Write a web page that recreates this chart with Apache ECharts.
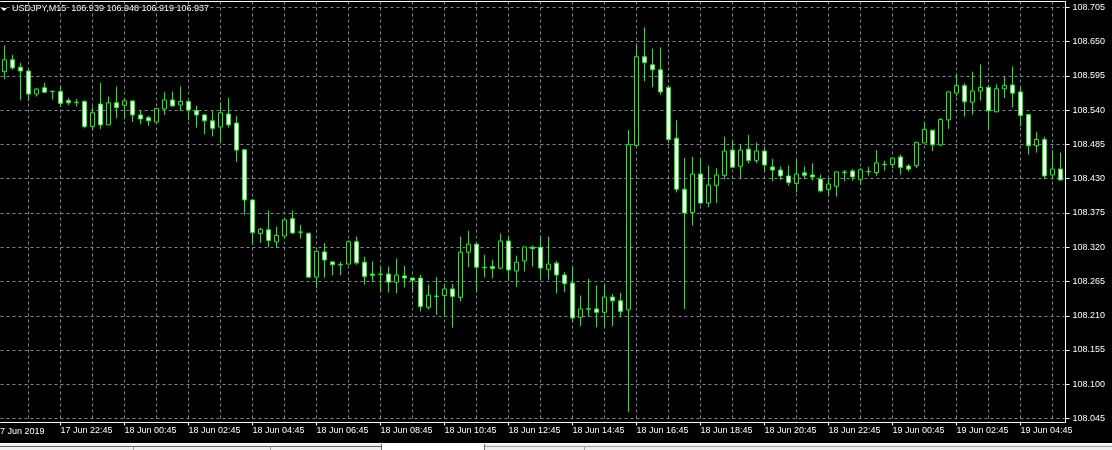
<!DOCTYPE html>
<html><head><meta charset="utf-8">
<script src="https://cdn.jsdelivr.net/npm/echarts@6/dist/echarts.min.js"></script>
<style>html,body{margin:0;padding:0;background:#000;}#c{width:1112px;height:450px;}</style>
</head><body><div id="c"></div>
<script>
// ---- data (USDJPY M15) ----
const START_UTC = Date.UTC(2019, 5, 17, 21, 0); // first bar 17 Jun 21:00
const BAR_MINUTES = 15;
const OPEN = [108.602,108.621,108.609,108.603,108.566,108.576,108.5705,108.570,108.5555,108.553,
108.554,108.514,108.550,108.5165,108.552,108.548,108.555,108.5325,108.528,108.521,
108.542,108.5565,108.5485,108.554,108.5395,108.5325,108.523,108.513,108.534,108.5195,
108.4765,108.396,108.342,108.348,108.3285,108.338,108.366,108.3446,108.342,108.272,
108.3125,108.2965,108.2922,108.293,108.329,108.296,108.277,108.277,108.277,108.264,
108.274,108.2705,108.2705,108.2235,108.2416,108.2425,108.253,108.2395,108.312,108.325,
108.2877,108.289,108.2865,108.330,108.282,108.298,108.320,108.320,108.2845,108.2945,
108.2755,108.2625,108.2075,108.2211,108.221,108.2155,108.240,108.234,108.2195,108.4835,
108.626,108.613,108.605,108.5765,108.495,108.413,108.376,108.4375,108.391,108.4195,
108.4355,108.476,108.450,108.4775,108.4595,108.4745,108.449,108.444,108.4345,108.4225,
108.4395,108.436,108.4295,108.413,108.418,108.4398,108.4425,108.429,108.4417,108.440,
108.4534,108.453,108.465,108.4505,108.451,108.4875,108.508,108.4845,108.5245,108.5675,
108.5795,108.553,108.571,108.5765,108.5375,108.5745,108.5805,108.5695,108.533,108.483,
108.493,108.436,108.4455];
const HIGH = [108.644,108.629,108.616,108.605,108.576,108.584,108.571,108.5795,108.560,108.558,
108.556,108.545,108.584,108.562,108.578,108.559,108.5555,108.540,108.531,108.5435,
108.569,108.570,108.578,108.556,108.5475,108.533,108.539,108.5525,108.560,108.531,
108.477,108.397,108.351,108.379,108.353,108.366,108.379,108.356,108.344,108.314,
108.3265,108.297,108.2965,108.331,108.337,108.305,108.297,108.290,108.289,108.302,
108.290,108.271,108.2755,108.260,108.272,108.261,108.261,108.337,108.3465,108.3255,
108.308,108.300,108.342,108.338,108.3065,108.321,108.3225,108.3385,108.337,108.298,
108.280,108.289,108.2425,108.269,108.2585,108.261,108.245,108.2465,108.508,108.645,
108.673,108.639,108.641,108.580,108.524,108.463,108.465,108.463,108.451,108.447,
108.4975,108.492,108.4855,108.5005,108.488,108.479,108.462,108.4495,108.451,108.4615,
108.4495,108.455,108.4365,108.430,108.4415,108.444,108.446,108.447,108.449,108.476,
108.4587,108.464,108.469,108.4535,108.489,108.521,108.5085,108.5275,108.570,108.5985,
108.583,108.602,108.6135,108.5805,108.5815,108.594,108.610,108.578,108.5335,108.505,
108.497,108.4755,108.472];
const LOW = [108.590,108.605,108.556,108.555,108.562,108.569,108.557,108.545,108.548,108.546,
108.511,108.508,108.510,108.516,108.527,108.526,108.521,108.5175,108.515,108.520,
108.5325,108.546,108.539,108.524,108.512,108.5015,108.498,108.487,108.512,108.457,
108.372,108.324,108.327,108.320,108.319,108.334,108.341,108.334,108.271,108.254,
108.271,108.275,108.275,108.2925,108.292,108.260,108.264,108.2485,108.2475,108.246,
108.2555,108.2475,108.217,108.220,108.2115,108.210,108.191,108.233,108.288,108.2475,
108.2715,108.270,108.285,108.266,108.2565,108.281,108.289,108.268,108.268,108.246,
108.248,108.1995,108.193,108.209,108.1915,108.1905,108.193,108.2075,108.0555,108.483,
108.5865,108.577,108.565,108.488,108.408,108.2205,108.355,108.3885,108.3845,108.391,
108.429,108.448,108.430,108.4545,108.455,108.440,108.426,108.428,108.419,108.408,
108.4295,108.427,108.408,108.4015,108.4015,108.426,108.427,108.4205,108.435,108.435,
108.443,108.447,108.4365,108.4415,108.447,108.487,108.4745,108.482,108.510,108.562,
108.530,108.533,108.5555,108.509,108.537,108.5595,108.5445,108.5145,108.469,108.472,
108.4295,108.429,108.428];
const CLOSE = [108.621,108.608,108.603,108.566,108.574,108.569,108.5700,108.551,108.552,108.5525,
108.514,108.536,108.5165,108.552,108.544,108.555,108.5325,108.526,108.523,108.543,
108.5565,108.547,108.554,108.5405,108.5325,108.523,108.511,108.536,108.5165,108.476,
108.396,108.3435,108.349,108.331,108.339,108.364,108.343,108.344,108.272,108.3135,
108.2995,108.292,108.2917,108.329,108.295,108.273,108.275,108.2765,108.264,108.2755,
108.2705,108.267,108.225,108.243,108.2411,108.253,108.241,108.312,108.325,108.288,
108.2872,108.286,108.330,108.2835,108.296,108.3205,108.318,108.2865,108.293,108.2755,
108.2615,108.2065,108.221,108.2206,108.2155,108.240,108.234,108.217,108.4845,108.626,
108.6165,108.605,108.5695,108.493,108.413,108.375,108.4375,108.391,108.420,108.436,
108.4745,108.4485,108.476,108.4595,108.4745,108.452,108.444,108.4345,108.424,108.4375,
108.4355,108.433,108.4105,108.4215,108.441,108.4409,108.433,108.4445,108.4412,108.4555,
108.4529,108.463,108.448,108.4455,108.4885,108.509,108.4845,108.525,108.5695,108.5795,
108.5535,108.571,108.5765,108.539,108.5745,108.5795,108.5675,108.5315,108.483,108.493,
108.4345,108.4455,108.428];
// price axis ticks
const PRICE_MIN = 108.045, PRICE_MAX = 108.705, PRICE_STEP = 0.055;
const TITLE_TEXT = 'USDJPY,M15  106.939 106.948 106.919 106.937';
const FIRST_DATE_LABEL = '17 Jun 2019';

// ---- categories (bar times) ----
const MONTHS = ['Jan','Feb','Mar','Apr','May','Jun','Jul','Aug','Sep','Oct','Nov','Dec'];
const categories = OPEN.map(function (_, i) {
  const d = new Date(START_UTC + i * BAR_MINUTES * 60000);
  const p = function (n) { return (n < 10 ? '0' : '') + n; };
  return d.getUTCDate() + ' ' + MONTHS[d.getUTCMonth()] + ' ' + p(d.getUTCHours()) + ':' + p(d.getUTCMinutes());
});
const candles = OPEN.map(function (o, i) { return [o, CLOSE[i], LOW[i], HIGH[i]]; });

const FONT = 'Liberation Sans';
const GRID_COLOR = '#778899';
const isLabelBar = function (i) { return i % 8 === 7; };
const isGridBar = function (i) { return i % 4 === 3; };

const chart = echarts.init(document.getElementById('c'), null, {renderer: 'canvas'});
chart.setOption({
  animation: false,
  backgroundColor: '#000000',
  textStyle: {fontFamily: FONT},
  grid: [
    {left: 0.5, width: 1064, top: 1.5, bottom: 27.5, containLabel: false},
    {left: 0.5, width: 1064, top: 7.5, bottom: 31.5, containLabel: false}
  ],
  xAxis: [
    {
      gridIndex: 0, type: 'category', data: categories, boundaryGap: true, position: 'bottom',
      axisLine: {show: true, lineStyle: {color: '#ffffff', width: 1}},
      axisTick: {show: true, interval: isLabelBar, alignWithLabel: true, length: 3, lineStyle: {color: '#ffffff'}},
      axisLabel: {show: true, interval: isLabelBar, align: 'left', color: '#ffffff', fontSize: 9, fontFamily: FONT, margin: 4, hideOverlap: false},
      splitLine: {show: true, interval: isGridBar, alignWithLabel: true, lineStyle: {color: GRID_COLOR, type: [3, 3], width: 1}}
    },
    {
      gridIndex: 0, type: 'category', data: categories, position: 'top',
      axisLine: {show: true, lineStyle: {color: '#ffffff', width: 1}},
      axisTick: {show: false}, axisLabel: {show: false}, splitLine: {show: false}
    },
    {
      gridIndex: 1, type: 'category', data: categories, boundaryGap: true, show: false
    }
  ],
  yAxis: [
    {
      gridIndex: 0, type: 'value', min: 0, max: 1, position: 'right', offset: 1,
      axisLine: {show: true, lineStyle: {color: '#ffffff', width: 1}},
      axisTick: {show: false}, axisLabel: {show: false}, splitLine: {show: false}
    },
    {
      gridIndex: 1, type: 'value', min: PRICE_MIN, max: PRICE_MAX, interval: PRICE_STEP, position: 'right', offset: 1,
      axisLine: {show: false},
      axisTick: {show: true, inside: false, length: 4, lineStyle: {color: '#ffffff'}},
      axisLabel: {show: true, color: '#ffffff', fontSize: 9, fontFamily: FONT, margin: 7,
        formatter: function (v) { return v.toFixed(3); }},
      splitLine: {show: true, lineStyle: {color: GRID_COLOR, type: [3, 3], width: 1}}
    }
  ],
  series: [{
    type: 'candlestick',
    xAxisIndex: 2, yAxisIndex: 1,
    data: candles,
    barWidth: 4,
    itemStyle: {
      color: '#000000', color0: '#ffffff',
      borderColor: '#00ff00', borderColor0: '#00ff00', borderColorDoji: '#00ff00',
      borderWidth: 1
    }
  }],
  graphic: [
    {type: 'polygon', shape: {points: [[1, 8], [7, 8], [4, 11]]}, style: {fill: '#ffffff'}, silent: true},
    {type: 'text', left: 12, top: 4, style: {text: TITLE_TEXT, fill: '#ffffff', font: '9px "' + FONT + '"'}, silent: true},
    {type: 'text', x: -5, y: 427, style: {text: FIRST_DATE_LABEL, fill: '#ffffff', font: '9px "' + FONT + '"'}, silent: true},
    {type: 'rect', shape: {x: 0, y: 443, width: 1112, height: 7}, style: {fill: '#f0f0f0'}, silent: true},
    {type: 'rect', shape: {x: 0, y: 443, width: 1112, height: 1}, style: {fill: '#ffffff'}, silent: true},
    {type: 'rect', shape: {x: 0, y: 446, width: 381, height: 1}, style: {fill: '#696969'}, silent: true},
    {type: 'rect', shape: {x: 382, y: 444, width: 102, height: 6}, style: {fill: '#ffffff'}, silent: true},
    {type: 'rect', shape: {x: 484, y: 446, width: 628, height: 1}, style: {fill: '#a0a0a0'}, silent: true},
    {type: 'rect', shape: {x: 381, y: 444, width: 1, height: 6}, style: {fill: '#696969'}, silent: true},
    {type: 'rect', shape: {x: 484, y: 444, width: 1, height: 6}, style: {fill: '#696969'}, silent: true},
    {type: 'rect', shape: {x: 133, y: 447, width: 1, height: 3}, style: {fill: '#a0a0a0'}, silent: true},
    {type: 'rect', shape: {x: 270, y: 447, width: 1, height: 3}, style: {fill: '#a0a0a0'}, silent: true},
    {type: 'rect', shape: {x: 584, y: 447, width: 1, height: 3}, style: {fill: '#a0a0a0'}, silent: true}
  ]
});
</script>
</body></html>
